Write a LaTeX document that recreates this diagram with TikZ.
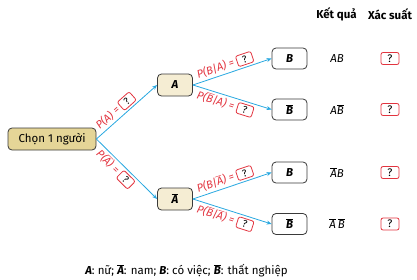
\documentclass[tikz,border=0pt]{standalone}
\usepackage{fontspec}
\setmainfont{Fira Sans}
\usepackage{xcolor}
\usepackage{tikz}
\usetikzlibrary{arrows.meta,positioning}

\definecolor{branchblue}{HTML}{29A8E0}
\definecolor{probred}{HTML}{E2343F}
\definecolor{rootfill}{HTML}{E5D597}
\definecolor{eventfill}{HTML}{F5EDD3}
\definecolor{boxline}{HTML}{3A3A3A}

\newcommand{\ovl}[1]{$\overline{\mbox{#1}}$}
\newcommand{\qmark}{\tikz[baseline=(q.base)]\node[qbox] (q) {?};}

\tikzset{
    qbox/.style={draw=probred, rounded corners=2pt, line width=0.8pt, inner sep=0pt,
        minimum width=16pt, minimum height=11pt, text=black, font=\fontsize{10}{11}\selectfont\upshape},
    eventbox/.style={draw=boxline, thick, rounded corners=4pt, minimum width=35pt,
        minimum height=21pt, inner sep=1pt, font=\fontsize{11.5}{13}\selectfont\bfseries\itshape},
    branch/.style={draw=branchblue, thick, -{Stealth[length=5pt,width=4pt]}},
    problabel/.style={text=probred, font=\fontsize{11}{12}\selectfont\itshape, inner sep=1pt}
}

\begin{document}
\begin{tikzpicture}[x=1pt, y=-1pt, every node/.append style={font=\fontsize{11.5}{13}\selectfont}]
\useasboundingbox (0,0) rectangle (417,279);
% Tree nodes
\node[eventbox, fill=rootfill, minimum width=88pt, minimum height=22pt, font=\fontsize{11.5}{13}\selectfont] (root) at (52,139) {Chọn 1 người};
\node[eventbox, fill=eventfill, minimum height=22pt] (a) at (175,85) {A};
\node[eventbox, fill=eventfill, minimum height=22pt] (abar) at (175,199) {\ovl{\bfseries\itshape A}};
\node[eventbox, fill=white] (ab) at (289.5,58.5) {B};
\node[eventbox, fill=white] (abbar) at (289.5,109.5) {\ovl{\bfseries\itshape B}};
\node[eventbox, fill=white] (abarb) at (289.5,172.5) {B};
\node[eventbox, fill=white] (abarbbar) at (289.5,224) {\ovl{\bfseries\itshape B}};

% Branches
\draw[branch] (root.east) -- node[problabel, above=1pt, pos=0.4, sloped] {P(A) = \qmark} (a.west);
\draw[branch] (root.east) -- node[problabel, below=1pt, pos=0.4, sloped] {P(\ovl{\itshape A}) = \qmark} (abar.west);
\draw[branch] (a.east) -- node[problabel, above=1pt, pos=0.44, sloped] {P(B|A) = \qmark} (ab.west);
\draw[branch] (a.east) -- node[problabel, below=1pt, pos=0.44, sloped] {P(\ovl{\itshape B}|A) = \qmark} (abbar.west);
\draw[branch] (abar.east) -- node[problabel, above=1pt, pos=0.44, sloped] {P(B|\ovl{\itshape A}) = \qmark} (abarb.west);
\draw[branch] (abar.east) -- node[problabel, below=1pt, pos=0.44, sloped] {P(\ovl{\itshape B}|\ovl{\itshape A}) = \qmark} (abarbbar.west);

% Result columns
\node[font=\fontsize{11.5}{13}\selectfont\bfseries] (hres) at (336.5,14) {Kết quả};
\node[font=\fontsize{11.5}{13}\selectfont\bfseries] (hprob) at (390,14) {Xác suất};
\node (r1) at (337,58.5) {\itshape AB};
\node (r2) at (337,109.5) {\itshape A\ovl{\itshape B}};
\node (r3) at (337,172.5) {\ovl{\itshape A}\itshape B};
\node (r4) at (337,224) {\ovl{\itshape A}\,\ovl{\itshape B}};
\foreach \y/\n in {58.5/1, 109.5/2, 172.5/3, 224/4}
    \node[qbox, minimum width=18pt, minimum height=12pt, font=\fontsize{11}{12}\selectfont] (q\n) at (390,\y) {?};

% Legend
\node (legend) at (186.5,271) {\textbf{\textit{A}}: nữ; \ovl{\bfseries\itshape A}: nam; \textbf{\textit{B}}: có việc; \ovl{\bfseries\itshape B}: thất nghiệp};
\end{tikzpicture}
\end{document}
